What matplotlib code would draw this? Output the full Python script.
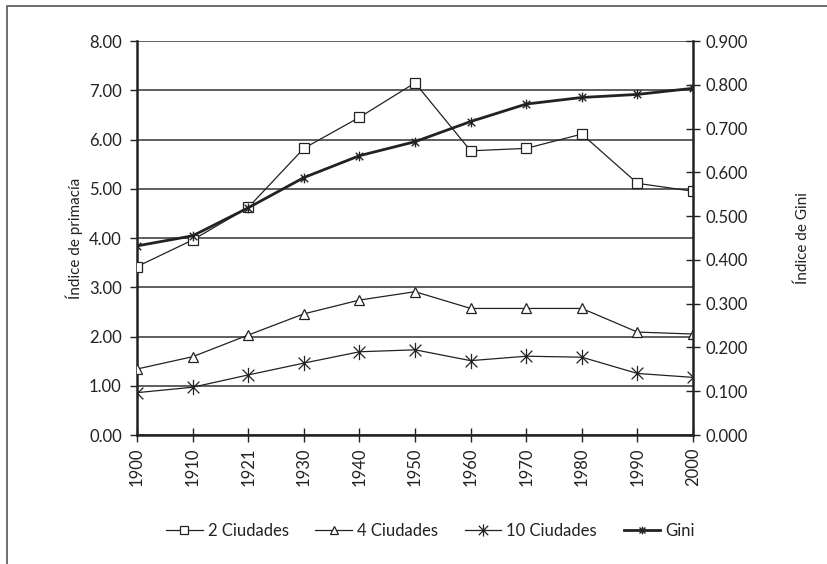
import numpy as np
from matplotlib import pyplot as plt
from matplotlib.path import Path
from matplotlib.patches import Rectangle

plt.rcParams['font.family'] = ['Lato', 'DejaVu Sans']

years = ["1900", "1910", "1921", "1930", "1940", "1950",
         "1960", "1970", "1980", "1990", "2000"]
ciudades_2 = [3.42, 3.96, 4.62, 5.82, 6.45, 7.15, 5.77, 5.82, 6.11, 5.11, 4.95]
ciudades_4 = [1.34, 1.59, 2.03, 2.46, 2.74, 2.91, 2.57, 2.57, 2.57, 2.09, 2.05]
ciudades_10 = [0.86, 0.97, 1.22, 1.46, 1.69, 1.73, 1.51, 1.60, 1.58, 1.25, 1.17]
gini = [0.432, 0.455, 0.519, 0.588, 0.638, 0.670, 0.716, 0.756, 0.771, 0.778, 0.792]

ink = "#222222"

# excel-style star: an X with a vertical bar through it
star = Path([(-1, -1), (1, 1), (-1, 1), (1, -1), (0, -1.3), (0, 1.3)],
            [Path.MOVETO, Path.LINETO, Path.MOVETO, Path.LINETO,
             Path.MOVETO, Path.LINETO])

fig = plt.figure(figsize=(8.28, 5.64), dpi=100)
ax = fig.add_axes([0.1655, 0.2287, 0.6715, 0.6986])
ax2 = ax.twinx()

x = np.arange(len(years))

l1, = ax.plot(x, ciudades_2, color=ink, lw=0.9, marker='s', ms=6.5,
              mfc='white', mec=ink, mew=0.9, label="2 Ciudades", zorder=3)
l2, = ax.plot(x, ciudades_4, color=ink, lw=0.9, marker='^', ms=6.5,
              mfc='white', mec=ink, mew=0.9, label="4 Ciudades", zorder=3)
l3, = ax.plot(x, ciudades_10, color=ink, lw=0.9, marker=star, ms=11,
              mec=ink, mew=0.9, label="10 Ciudades", zorder=3)
l4, = ax2.plot(x, gini, color=ink, lw=2.0, marker=star, ms=7,
               mec=ink, mew=1.0, label="Gini", zorder=3)

ax.set_xlim(0, len(years) - 1)
ax.set_ylim(0, 8)
ax2.set_ylim(0, 0.9)
ax.set_xticks(x)
ax.set_xticklabels(years, rotation=90)
ax.set_yticks(np.arange(0, 9, 1))
ax.set_yticklabels([f"{v:.2f}" for v in np.arange(0, 9, 1)])
ax2.set_yticks(np.arange(0, 1.0, 0.1))
ax2.set_yticklabels([f"{v:.3f}" for v in np.arange(0, 1.0, 0.1)])

ax.yaxis.grid(True, color="#333333", lw=1.1)
ax.set_axisbelow(True)

for a in (ax, ax2):
    for s in a.spines.values():
        s.set_visible(False)
ax.spines['left'].set_visible(True)
ax.spines['bottom'].set_visible(True)
ax2.spines['right'].set_visible(True)
for s in (ax.spines['left'], ax.spines['bottom'], ax2.spines['right']):
    s.set_linewidth(1.8)
    s.set_color(ink)

ax.tick_params(axis='y', direction='out', length=5, width=1, colors=ink,
               labelsize=12, pad=6)
ax.tick_params(axis='x', direction='inout', length=10, width=1, colors=ink,
               labelsize=12, pad=4)
ax2.tick_params(axis='y', direction='inout', length=10, width=1, colors=ink,
                labelsize=12, pad=4)

ax.set_ylabel("Índice de primacía", fontsize=11, color=ink, labelpad=4)
ax2.set_ylabel("Índice de Gini", fontsize=11, color=ink, labelpad=34)

fig.legend(handles=[l1, l2, l3, l4], loc='center', ncol=4,
           bbox_to_anchor=(0.52, 0.059), frameon=False, fontsize=12,
           handlelength=2.2, handletextpad=0.3, columnspacing=1.6,
           markerscale=0.8, labelcolor=ink)

# outer border
fig.patches.append(Rectangle((7 / 828, -0.1), 1.2, 1.1 - 6 / 564,
                             transform=fig.transFigure, fill=False,
                             ec="#555555", lw=1.2))

fig.savefig("out.png", dpi=100)
